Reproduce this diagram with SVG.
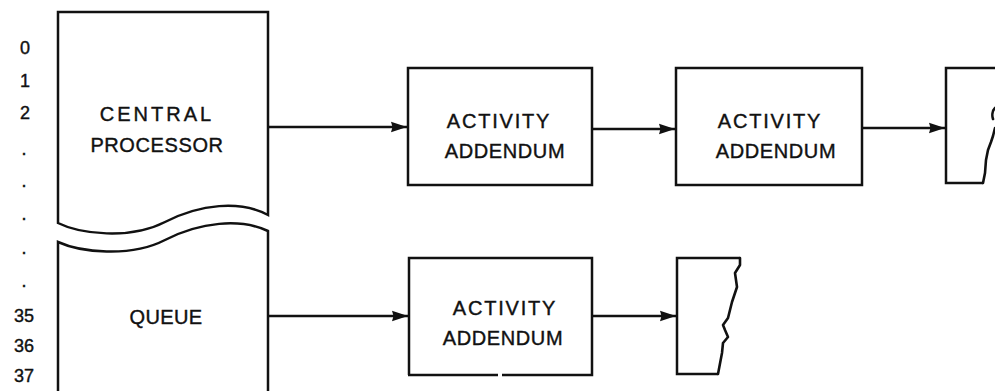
<svg xmlns="http://www.w3.org/2000/svg" width="995" height="391" viewBox="0 0 995 391">
  <style>
    .ln { fill: none; stroke: #111; stroke-width: 2.5; stroke-linejoin: miter; }
    .jag { fill: none; stroke: #111; stroke-width: 2.6; stroke-linejoin: round; stroke-linecap: round; }
    .lbl { font-family: "Liberation Sans", Arial, sans-serif; font-size: 20px; fill: #111; stroke: #111; stroke-width: 0.4; text-anchor: middle; }
    .num { font-family: "Liberation Sans", Arial, sans-serif; font-size: 18px; fill: #111; stroke: #111; stroke-width: 0.4; text-anchor: middle; }
  </style>
  <defs>
    <marker id="arrow" markerUnits="userSpaceOnUse" markerWidth="18" markerHeight="12" refX="16" refY="6" orient="auto">
      <path d="M0,0.8 L16,6 L0,11.2 L1.5,6 Z" fill="#111"/>
    </marker>
  </defs>
  <rect width="995" height="391" fill="#fff"/>

  <!-- register index column -->
  <g id="index">
    <text class="num" x="25" y="53.5">0</text>
    <text class="num" x="25" y="86.5">1</text>
    <text class="num" x="25" y="118.5">2</text>
    <text class="num" x="24" y="155">.</text>
    <text class="num" x="24" y="187">.</text>
    <text class="num" x="24" y="220">.</text>
    <text class="num" x="24" y="254">.</text>
    <text class="num" x="24" y="287">.</text>
    <text class="num" x="24" y="321.5">35</text>
    <text class="num" x="24" y="351.5">36</text>
    <text class="num" x="24" y="381.5">37</text>
  </g>

  <!-- table entry, upper part -->
  <g id="central-processor">
    <path class="ln" d="M58,223 L58,12 L268,12 L268,215 C240,200 200,204 165,222 C130,240 80,234 58,223 Z"/>
    <text class="lbl" x="157" y="120.5" letter-spacing="3">CENTRAL</text>
    <text class="lbl" x="157" y="152" letter-spacing="0.6">PROCESSOR</text>
  </g>

  <!-- table entry, lower part -->
  <g id="queue">
    <path class="ln" d="M58,392 L58,242 C80,252 130,258 165,240 C200,222 240,218 268,231 L268,392"/>
    <text class="lbl" x="166" y="324" letter-spacing="0.4">QUEUE</text>
  </g>

  <g id="addendum-1">
    <rect class="ln" x="408" y="68" width="184" height="117"/>
    <text class="lbl" x="499" y="127.5" letter-spacing="1.8">ACTIVITY</text>
    <text class="lbl" x="505" y="157.5" letter-spacing="0.6">ADDENDUM</text>
  </g>

  <g id="addendum-2">
    <rect class="ln" x="676" y="68" width="186" height="117"/>
    <text class="lbl" x="770" y="127.5" letter-spacing="1.8">ACTIVITY</text>
    <text class="lbl" x="776" y="157.5" letter-spacing="0.6">ADDENDUM</text>
  </g>

  <!-- torn-off continuation, top chain -->
  <g id="addendum-3">
    <path class="ln" d="M996,68 L946,68 L946,183 L983,183"/>
    <path class="jag" d="M983,183 L985,173 L986,160 L988,150 L991,142 L993,136 L995,128"/>
    <path class="jag" d="M995,108 C992,111 992,116 993,119"/>
  </g>

  <g id="addendum-4">
    <path class="ln" d="M409,375 L409,258 L592,258 L592,375 L502,375"/>
    <path class="ln" d="M498,375 L408,375"/>
    <text class="lbl" x="505" y="314.5" letter-spacing="1.8">ACTIVITY</text>
    <text class="lbl" x="503" y="344.5" letter-spacing="0.6">ADDENDUM</text>
  </g>

  <!-- torn-off continuation, queue chain -->
  <g id="addendum-5">
    <path class="ln" d="M718,374 L677,374 L677,258 L740,258"/>
    <path class="jag" d="M740,258 L740,265 L735,273 L737,287 L732,302 L728,318 L723,325 L725,330 L728,337 L723,343 L722,353 L718,374"/>
  </g>

  <g id="connectors">
    <line class="ln" x1="268" y1="127" x2="407" y2="127" marker-end="url(#arrow)"/>
    <line class="ln" x1="592" y1="129" x2="675" y2="129" marker-end="url(#arrow)"/>
    <line class="ln" x1="862" y1="128" x2="945" y2="128" marker-end="url(#arrow)"/>
    <line class="ln" x1="268" y1="316" x2="408" y2="316" marker-end="url(#arrow)"/>
    <line class="ln" x1="592" y1="316" x2="676" y2="316" marker-end="url(#arrow)"/>
  </g>
</svg>
